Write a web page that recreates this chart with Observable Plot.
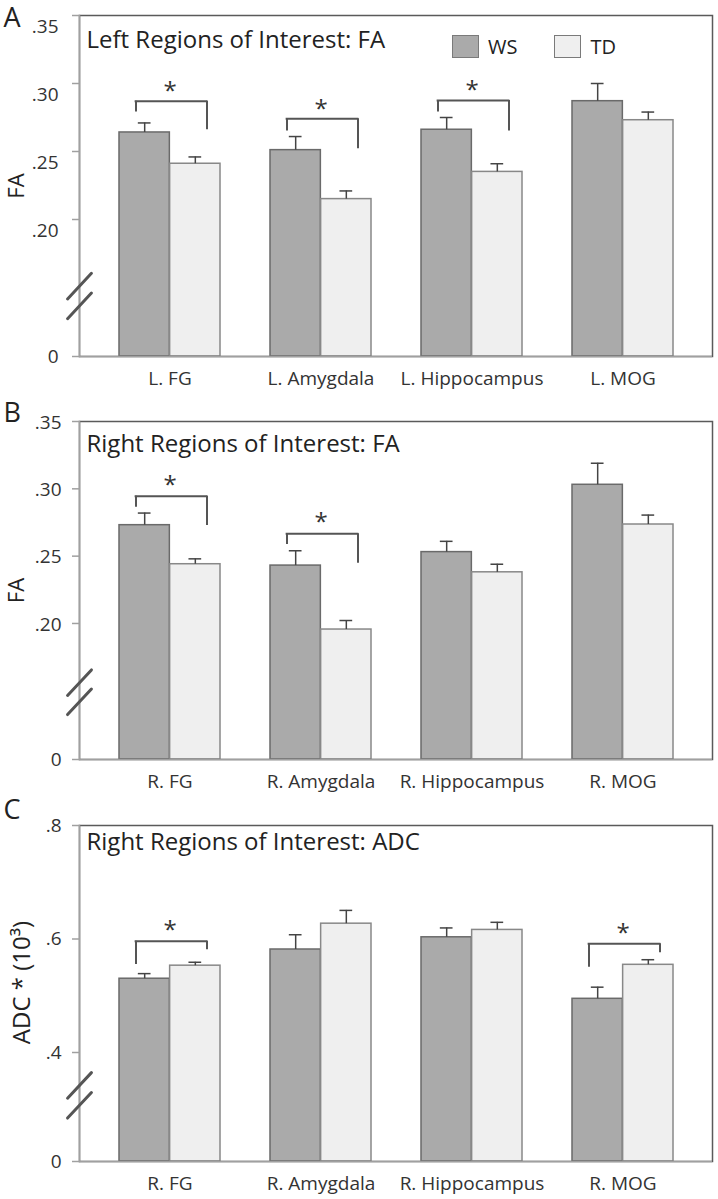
<!DOCTYPE html>
<html><head><meta charset="utf-8">
<script src="https://cdn.jsdelivr.net/npm/d3@7"></script>
<script src="https://cdn.jsdelivr.net/npm/@observablehq/plot@0.6"></script>
<style>
body{margin:0;background:#fff;font-family:"Open Sans","Noto Sans",sans-serif;}
.panel{position:relative;width:718px;}
.panel svg{display:block;}
.legend{position:absolute;display:flex;align-items:center;font-size:20px;color:#222;}
.sw{width:25px;height:21px;border:1.5px solid #7a7a7a;display:inline-block;margin-right:9px;}
</style></head><body><div id="chart"></div>
<script>
const groups = ["WS", "TD"];

// Panel A: Left regions, FA
const catsA = ["L. FG", "L. Amygdala", "L. Hippocampus", "L. MOG"];
const wsA = [0.264, 0.251, 0.266, 0.287];
const wsErrA = [0.007, 0.010, 0.009, 0.013];
const tdA = [0.241, 0.215, 0.235, 0.273];
const tdErrA = [0.005, 0.006, 0.006, 0.006];
const ticksA = [0, 0.20, 0.25, 0.30, 0.35];
const sigCatsA = ["L. FG", "L. Amygdala", "L. Hippocampus"];
const sigTopA = [0.287, 0.274, 0.2875];
const sigLeftA = [0.279, 0.265, 0.279];
const sigRightA = [0.266, 0.252, 0.265];
const sigStarA = [0.298, 0.285, 0.299];
const breaksA = [0.151, 0.110];

// Panel B: Right regions, FA
const catsB = ["R. FG", "R. Amygdala", "R. Hippocampus", "R. MOG"];
const wsB = [0.273, 0.243, 0.253, 0.303];
const wsErrB = [0.009, 0.011, 0.008, 0.016];
const tdB = [0.244, 0.1955, 0.238, 0.2735];
const tdErrB = [0.004, 0.0067, 0.006, 0.007];
const ticksB = [0, 0.20, 0.25, 0.30, 0.35];
const sigCatsB = ["R. FG", "R. Amygdala"];
const sigTopB = [0.2945, 0.2666];
const sigLeftB = [0.2864, 0.2587];
const sigRightB = [0.2728, 0.2448];
const sigStarB = [0.3062, 0.2785];
const breaksB = [0.156, 0.126];

// Panel C: Right regions, ADC
const catsC = ["R. FG", "R. Amygdala", "R. Hippocampus", "R. MOG"];
const wsC = [0.530, 0.5815, 0.603, 0.4946];
const wsErrC = [0.009, 0.026, 0.0165, 0.0205];
const tdC = [0.553, 0.627, 0.616, 0.5545];
const tdErrC = [0.006, 0.0234, 0.0134, 0.009];
const ticksC = [0, 0.4, 0.6, 0.8];
const sigCatsC = ["R. FG", "R. MOG"];
const sigTopC = [0.5961, 0.5915];
const sigLeftC = [0.5551, 0.5503];
const sigRightC = [0.581, 0.5757];
const sigStarC = [0.6238, 0.618];
const breaksC = [0.342, 0.307];

const FONT = "'Open Sans', 'Noto Sans', sans-serif";
const WS_FILL = "#aaaaaa", TD_FILL = "#efefef";

const lineShape = {draw(context, l) { context.moveTo(0, l / 2); context.lineTo(0, -l / 2); }};

function stripZero(d, digits) {
  if (d === 0) return "0";
  return d3.format("." + digits + "f")(d).replace(/^0/, "");
}

function panel(o) {
  const W = 718, ml = 79, mr = 6;
  const plotW = W - ml - mr;
  const bw = d3.scaleBand().domain(o.cats).range([ml, W - mr]).paddingInner(1 / 3).paddingOuter(0.25).bandwidth();
  const half = bw / 2, q = bw / 4, cap = 6.5;
  // broken axis: piecewise mapping applied as the y scale's transform
  const brk = d3.scaleLinear().domain(o.yDomain).range([0, o.breakFrac, 1]);
  const rows = o.cats.map((c, i) => ({cat: c, ws: o.ws[i], wsE: o.wsErr[i], td: o.td[i], tdE: o.tdErr[i]}));
  const sig = o.sigCats.map((c, i) => ({cat: c, top: o.sigTop[i], left: o.sigLeft[i], right: o.sigRight[i], star: o.sigStar[i]}));
  const fmt = d => stripZero(d, o.digits);
  const nonZero = o.ticks.filter(t => t !== 0);
  const svg = Plot.plot({
    width: W, height: o.height, marginLeft: ml, marginRight: mr, marginTop: o.mt, marginBottom: o.mb,
    style: {fontFamily: FONT, fontSize: "19px", color: "#333", background: "white", overflow: "visible"},
    x: {domain: o.cats, paddingInner: 1 / 3, paddingOuter: 0.25, label: null},
    y: {transform: brk, domain: [0, 1], label: null, axis: null},
    marks: [
      Plot.barY(rows, {x: "cat", y: "ws", insetRight: half, fill: WS_FILL, stroke: "#6a6a6a", strokeWidth: 1.5}),
      Plot.barY(rows, {x: "cat", y: "td", insetLeft: half, fill: TD_FILL, stroke: "#888888", strokeWidth: 1.5}),
      Plot.ruleX(rows, {x: "cat", y1: "ws", y2: d => d.ws + d.wsE, dx: -q, stroke: "#444", strokeWidth: 1.5}),
      Plot.tickY(rows, {x: "cat", y: d => d.ws + d.wsE, insetLeft: q - cap, insetRight: bw - q - cap, stroke: "#444", strokeWidth: 1.5}),
      Plot.ruleX(rows, {x: "cat", y1: "td", y2: d => d.td + d.tdE, dx: q, stroke: "#444", strokeWidth: 1.5}),
      Plot.tickY(rows, {x: "cat", y: d => d.td + d.tdE, insetLeft: bw - q - cap, insetRight: q - cap, stroke: "#444", strokeWidth: 1.5}),
      // significance brackets
      Plot.ruleX(sig, {x: "cat", y1: "left", y2: "top", dx: -34, stroke: "#555", strokeWidth: 2}),
      Plot.ruleX(sig, {x: "cat", y1: "right", y2: "top", dx: 37, stroke: "#555", strokeWidth: 2}),
      Plot.tickY(sig, {x: "cat", y: "top", insetLeft: half - 35, insetRight: half - 38, stroke: "#555", strokeWidth: 2}),
      Plot.text(sig, {x: "cat", y: "star", text: () => "*", fontSize: 24, fill: "#333", dy: 5}),
      // frame & axes
      Plot.frame({stroke: "#5a5a5a", strokeWidth: 1.5}),
      Plot.frame({anchor: "left", stroke: "#a0a0a0", strokeWidth: 1.5}),
      Plot.ruleY([0], {stroke: "#a0a0a0", strokeWidth: 1.5}),
      Plot.ruleY(o.ticks, {y: d => d, insetLeft: -7, insetRight: plotW, stroke: "#a0a0a0", strokeWidth: 1.5}),
      Plot.text([0], {y: d => d, text: fmt, frameAnchor: "left", textAnchor: "end", dx: -(7 + o.tp), fontSize: 19, fill: "#333"}),
      Plot.text(nonZero, {y: d => d, text: fmt, frameAnchor: "left", textAnchor: "end", dx: -(7 + o.tp), dy: o.tickDy, fontSize: 19, fill: "#333"}),
      Plot.axisX({tickSize: 0, tickPadding: 15, fill: "#333", fontSize: 19}),
      // axis break marks
      Plot.vector(o.breaks, {y: d => d, frameAnchor: "left", length: 35, rotate: 43, anchor: "start", shape: lineShape, stroke: "#555", strokeWidth: 3}),
      // labels
      Plot.text([o.letter], {frameAnchor: "top-left", dx: -76, dy: o.letterDy, textAnchor: "start", lineAnchor: "top", fontSize: 27, fill: "#222"}),
      Plot.text([o.title], {frameAnchor: "top-left", dx: 7, dy: o.titleDy, textAnchor: "start", lineAnchor: "top", fontSize: 24, fill: "#222"}),
      Plot.text([o.ylabel], {frameAnchor: "left", dx: o.ylabDx, dy: o.ylabDy, rotate: -90, textAnchor: "middle", fontSize: o.ylabSize, fill: "#222"})
    ]
  });
  const div = document.createElement("div");
  div.className = "panel";
  div.appendChild(svg);
  if (o.legend) {
    const lg = document.createElement("div");
    lg.className = "legend";
    lg.style.left = "452px"; lg.style.top = "33px";
    lg.innerHTML = `<span class="sw" style="background:${WS_FILL}"></span><span>${groups[0]}</span>` +
      `<span class="sw" style="background:${TD_FILL};margin-left:37px"></span><span>${groups[1]}</span>`;
    div.appendChild(lg);
  }
  return div;
}

const chart = document.getElementById("chart");
chart.appendChild(panel({
  letter: "A", title: "Left Regions of Interest: FA", ylabel: "FA", legend: true,
  cats: catsA, ws: wsA, wsErr: wsErrA, td: tdA, tdErr: tdErrA,
  sigCats: sigCatsA, sigTop: sigTopA, sigLeft: sigLeftA, sigRight: sigRightA, sigStar: sigStarA,
  ticks: ticksA, digits: 2, breaks: breaksA,
  height: 400, mt: 15, mb: 44, yDomain: [0, 0.15, 0.35], breakFrac: 69 / 341,
  tp: 14, tickDy: 11, titleDy: 15, letterDy: -8, ylabDx: -63, ylabDy: 0, ylabSize: 22
}));
chart.appendChild(panel({
  letter: "B", title: "Right Regions of Interest: FA", ylabel: "FA", legend: false,
  cats: catsB, ws: wsB, wsErr: wsErrB, td: tdB, tdErr: tdErrB,
  sigCats: sigCatsB, sigTop: sigTopB, sigLeft: sigLeftB, sigRight: sigRightB, sigStar: sigStarB,
  ticks: ticksB, digits: 2, breaks: breaksB,
  height: 400, mt: 21, mb: 41, yDomain: [0, 0.15, 0.35], breakFrac: 68.7 / 338,
  tp: 11, tickDy: 1, titleDy: 13, letterDy: -19, ylabDx: -63, ylabDy: 0, ylabSize: 22
}));
chart.appendChild(panel({
  letter: "C", title: "Right Regions of Interest: ADC", ylabel: "ADC * (10³)", legend: false,
  cats: catsC, ws: wsC, wsErr: wsErrC, td: tdC, tdErr: tdErrC,
  sigCats: sigCatsC, sigTop: sigTopC, sigLeft: sigLeftC, sigRight: sigRightC, sigStar: sigStarC,
  ticks: ticksC, digits: 1, breaks: breaksC,
  height: 399, mt: 25, mb: 38, yDomain: [0, 0.3, 0.8], breakFrac: 52.25 / 336,
  tp: 11, tickDy: 0, titleDy: 7, letterDy: -26, ylabDx: -57, ylabDy: -11, ylabSize: 24
}));
</script></body></html>
